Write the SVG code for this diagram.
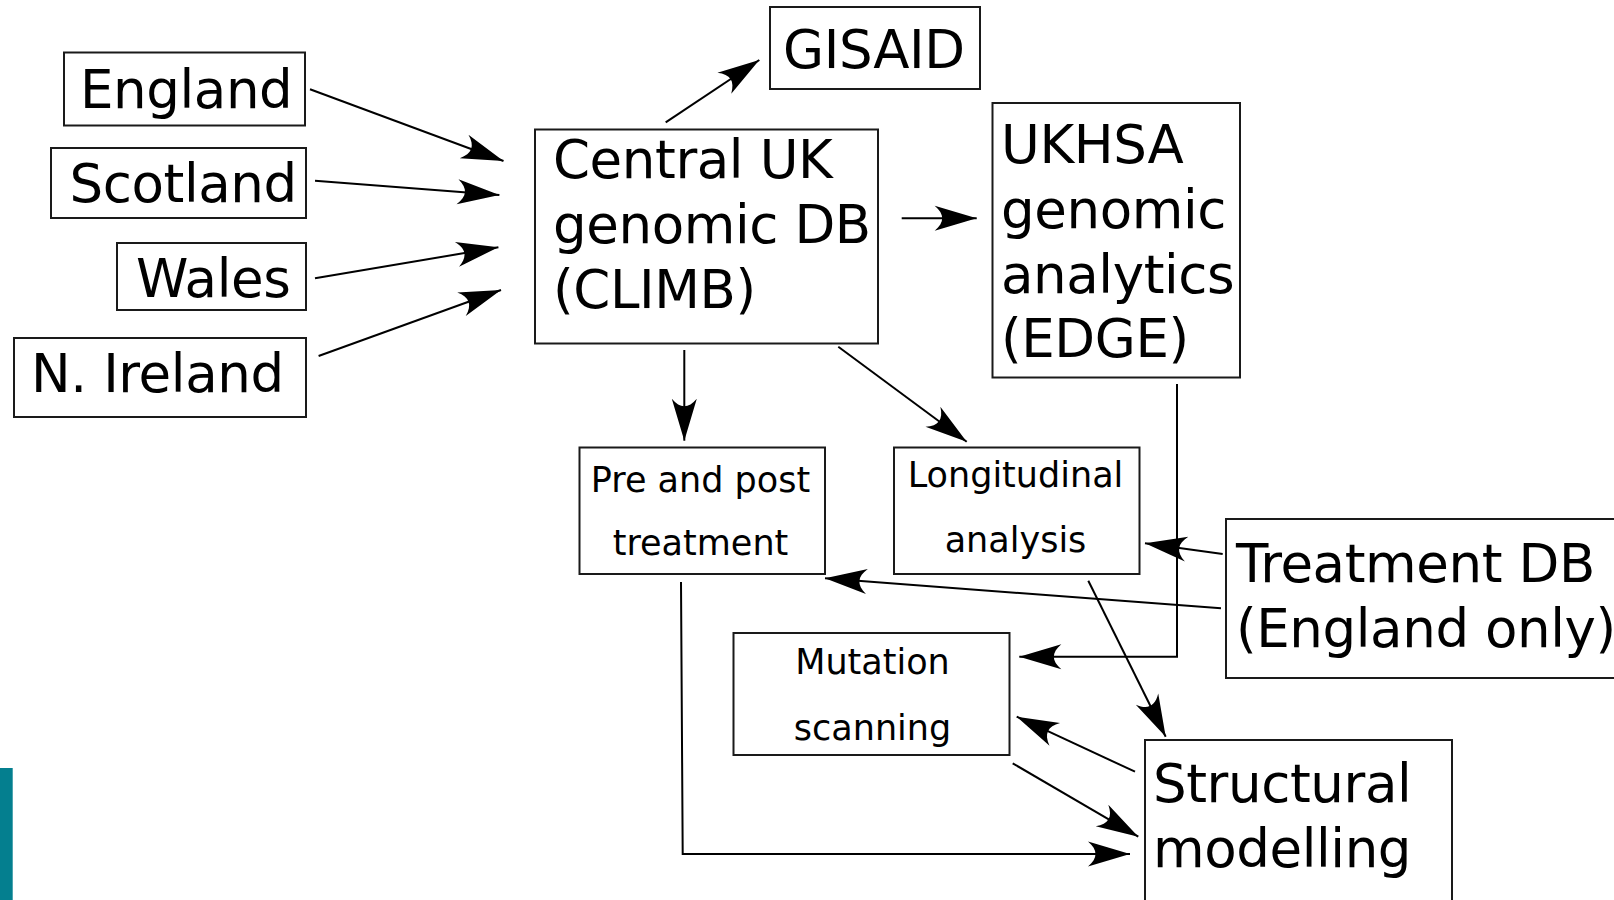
<svg xmlns="http://www.w3.org/2000/svg" width="1614" height="900" viewBox="0 0 1614 900">
<style>
.box{fill:#fff;stroke:#1a1a1a;stroke-width:2}
.big{font-family:"DejaVu Sans",sans-serif;font-size:53px;letter-spacing:-0.4px;fill:#000}
.small{font-family:"DejaVu Sans",sans-serif;font-size:35px;fill:#000;text-anchor:middle}
.conn{fill:none;stroke:#000;stroke-width:2;marker-end:url(#arr)}
</style>
<defs>
<marker id="arr" markerUnits="userSpaceOnUse" orient="auto" refX="0" refY="0" markerWidth="50" markerHeight="30" overflow="visible">
<path d="M0,0 L-42,-12.5 C-32,-4 -32,4 -42,12.5 Z" fill="#000"/>
</marker>
</defs>
<rect x="0" y="768" width="12.7" height="132" fill="#047f8f"/>
<g id="england"><rect class="box" x="64" y="52.5" width="241" height="73"/><text class="big" x="80" y="108.3">England</text></g>
<g id="scotland"><rect class="box" x="51" y="148" width="255" height="70"/><text class="big" x="69.5" y="201.7">Scotland</text></g>
<g id="wales"><rect class="box" x="117" y="243" width="189" height="67"/><text class="big" x="136" y="296.7">Wales</text></g>
<g id="nireland"><rect class="box" x="14" y="338" width="292" height="79"/><text class="big" x="31" y="392.3">N. Ireland</text></g>
<g id="gisaid"><rect class="box" x="770" y="7" width="210" height="82"/><text class="big" x="783" y="68.3">GISAID</text></g>
<g id="climb"><rect class="box" x="535" y="129.5" width="343" height="214"/><text class="big" x="553" y="178.3">Central UK</text><text class="big" x="553" y="243">genomic DB</text><text class="big" x="553" y="307.5">(CLIMB)</text></g>
<g id="ukhsa"><rect class="box" x="992.5" y="103" width="247.5" height="274.5"/><text class="big" x="1001" y="163.3">UKHSA</text><text class="big" x="1001" y="228">genomic</text><text class="big" x="1001" y="292.5">analytics</text><text class="big" x="1001" y="357">(EDGE)</text></g>
<g id="prepost"><rect class="box" x="579.5" y="447.5" width="245.5" height="126.5"/><text class="small" x="700.5" y="491.7">Pre and post</text><text class="small" x="700.5" y="555">treatment</text></g>
<g id="longitudinal"><rect class="box" x="894" y="447.5" width="245.5" height="126.5"/><text class="small" x="1015.5" y="486.7">Longitudinal</text><text class="small" x="1015.5" y="551.7">analysis</text></g>
<g id="treatment"><rect class="box" x="1226" y="519" width="400" height="159"/><text class="big" x="1236" y="581.7">Treatment DB</text><text class="big" x="1236" y="646.7">(England only)</text></g>
<g id="mutation"><rect class="box" x="733.5" y="633" width="276" height="122"/><text class="small" x="872.5" y="674.3">Mutation</text><text class="small" x="872.5" y="740">scanning</text></g>
<g id="structural"><rect class="box" x="1145" y="740" width="307" height="170"/><text class="big" x="1153" y="801.7">Structural</text><text class="big" x="1153" y="866.7">modelling</text></g>
<g id="connectors">
<path class="conn" d="M310,89.3 L503.5,161"/>
<path class="conn" d="M315,180.7 L499.4,195"/>
<path class="conn" d="M315,278.3 L498.4,247.3"/>
<path class="conn" d="M318.6,356 L501,290"/>
<path class="conn" d="M665.7,122.3 L759.3,60"/>
<path class="conn" d="M901.7,218.3 L976.7,218.3"/>
<path class="conn" d="M684.3,350 L684.3,440.7"/>
<path class="conn" d="M838.3,346.7 L966.7,441.7"/>
<path class="conn" d="M1177,384 L1177,656.7 L1019.3,656.7"/>
<path class="conn" d="M1222.7,554 L1145,543.3"/>
<path class="conn" d="M1221,608.3 L825,578.3"/>
<path class="conn" d="M1088.3,580.7 L1165.7,736.7"/>
<path class="conn" d="M1135,771.7 L1016.7,716.7"/>
<path class="conn" d="M1012.7,763.3 L1138.3,836.7"/>
<path class="conn" d="M681,582 L682.7,854 L1130,854"/>
</g>
</svg>
